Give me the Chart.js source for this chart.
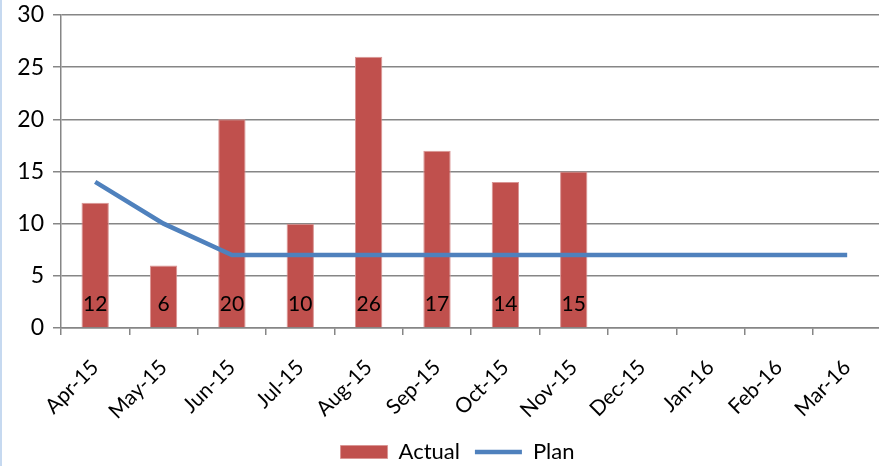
<!DOCTYPE html>
<html>
<head>
<meta charset="utf-8">
<script src="https://cdn.jsdelivr.net/npm/chart.js@4/dist/chart.umd.min.js"></script>
<style>
  html, body { margin: 0; padding: 0; background: #fff; overflow: hidden; }
  #wrap { position: relative; width: 885px; height: 466px; }
  #edge { position: absolute; left: 0; top: 0; width: 2px; height: 466px; background: #c6d9f0; z-index: 2; }
</style>
</head>
<body>
<div id="wrap">
  <div id="edge"></div>
  <canvas id="c" width="885" height="466"></canvas>
</div>
<script>
const months = ['Apr-15','May-15','Jun-15','Jul-15','Aug-15','Sep-15','Oct-15','Nov-15','Dec-15','Jan-16','Feb-16','Mar-16'];
const actual = [12, 6, 20, 10, 26, 17, 14, 15, null, null, null, null];
const plan = [14, 10, 7, 7, 7, 7, 7, 7, 7, 7, 7, 7];
const yTicks = [0, 5, 10, 15, 20, 25, 30];

const FONT = 'Lato, "Open Sans", sans-serif';

// Writes each bar's value just above the base of the bar
const barValueLabels = {
  id: 'barValueLabels',
  afterDatasetsDraw(chart) {
    const meta = chart.getDatasetMeta(0);
    const yScale = chart.scales.y;
    const ctx = chart.ctx;
    ctx.save();
    ctx.font = '21px ' + FONT;
    ctx.fillStyle = '#000';
    ctx.textAlign = 'center';
    ctx.textBaseline = 'middle';
    meta.data.forEach((bar, i) => {
      const v = actual[i];
      if (v == null) return;
      ctx.fillText(String(v), bar.x, yScale.getPixelForValue(0) - 24);
    });
    ctx.restore();
  }
};

// Nudges the legend block to the right of the canvas centre
const legendShift = {
  id: 'legendShift',
  afterLayout(chart) {
    const lg = chart.legend;
    if (!lg) return;
    lg.left += 15;
    lg.right += 15;
  }
};

new Chart(document.getElementById('c'), {
  data: {
    labels: months,
    datasets: [
      {
        type: 'bar',
        label: 'Actual',
        data: actual,
        backgroundColor: '#c0504d',
        borderColor: '#d99594',
        borderWidth: 1,
        barPercentage: 0.4,
        categoryPercentage: 1,
        pointStyle: 'rect',
        order: 2
      },
      {
        type: 'line',
        label: 'Plan',
        data: plan,
        borderColor: '#4f81bd',
        backgroundColor: '#4f81bd',
        borderWidth: 4.5,
        pointRadius: 0,
        pointStyle: 'line',
        tension: 0,
        order: 1
      }
    ]
  },
  options: {
    responsive: false,
    animation: false,
    layout: { padding: { top: 15, left: 0, right: 0, bottom: -7 } },
    plugins: {
      tooltip: { enabled: false },
      legend: {
        position: 'bottom',
        labels: {
          sort: (a, b) => a.datasetIndex - b.datasetIndex,
          usePointStyle: true,
          pointStyleWidth: 47,
          boxHeight: 13,
          padding: 15,
          color: '#000',
          font: { family: FONT, size: 22 }
        }
      }
    },
    scales: {
      x: {
        offset: true,
        grid: {
          offset: true,
          drawOnChartArea: false,
          drawTicks: true,
          tickLength: 7,
          color: '#868686',
          lineWidth: 1.5
        },
        border: { color: '#868686', width: 1.5 },
        ticks: {
          minRotation: 45,
          maxRotation: 45,
          color: '#000',
          padding: 20,
          font: { family: FONT, size: 21 }
        },
        afterFit(s) { s.height = 98; }
      },
      y: {
        min: 0,
        max: 30,
        afterBuildTicks(s) { s.ticks = yTicks.map(v => ({ value: v })); },
        grid: {
          color: '#868686',
          lineWidth: 1.5,
          tickLength: 8
        },
        border: { color: '#868686', width: 1.5 },
        ticks: {
          color: '#000',
          padding: 9,
          font: { family: FONT, size: 23 }
        },
        afterFit(s) { s.width = 61; s.paddingTop = 0; s.paddingBottom = 0; }
      }
    }
  },
  plugins: [barValueLabels, legendShift]
});
</script>
</body>
</html>
